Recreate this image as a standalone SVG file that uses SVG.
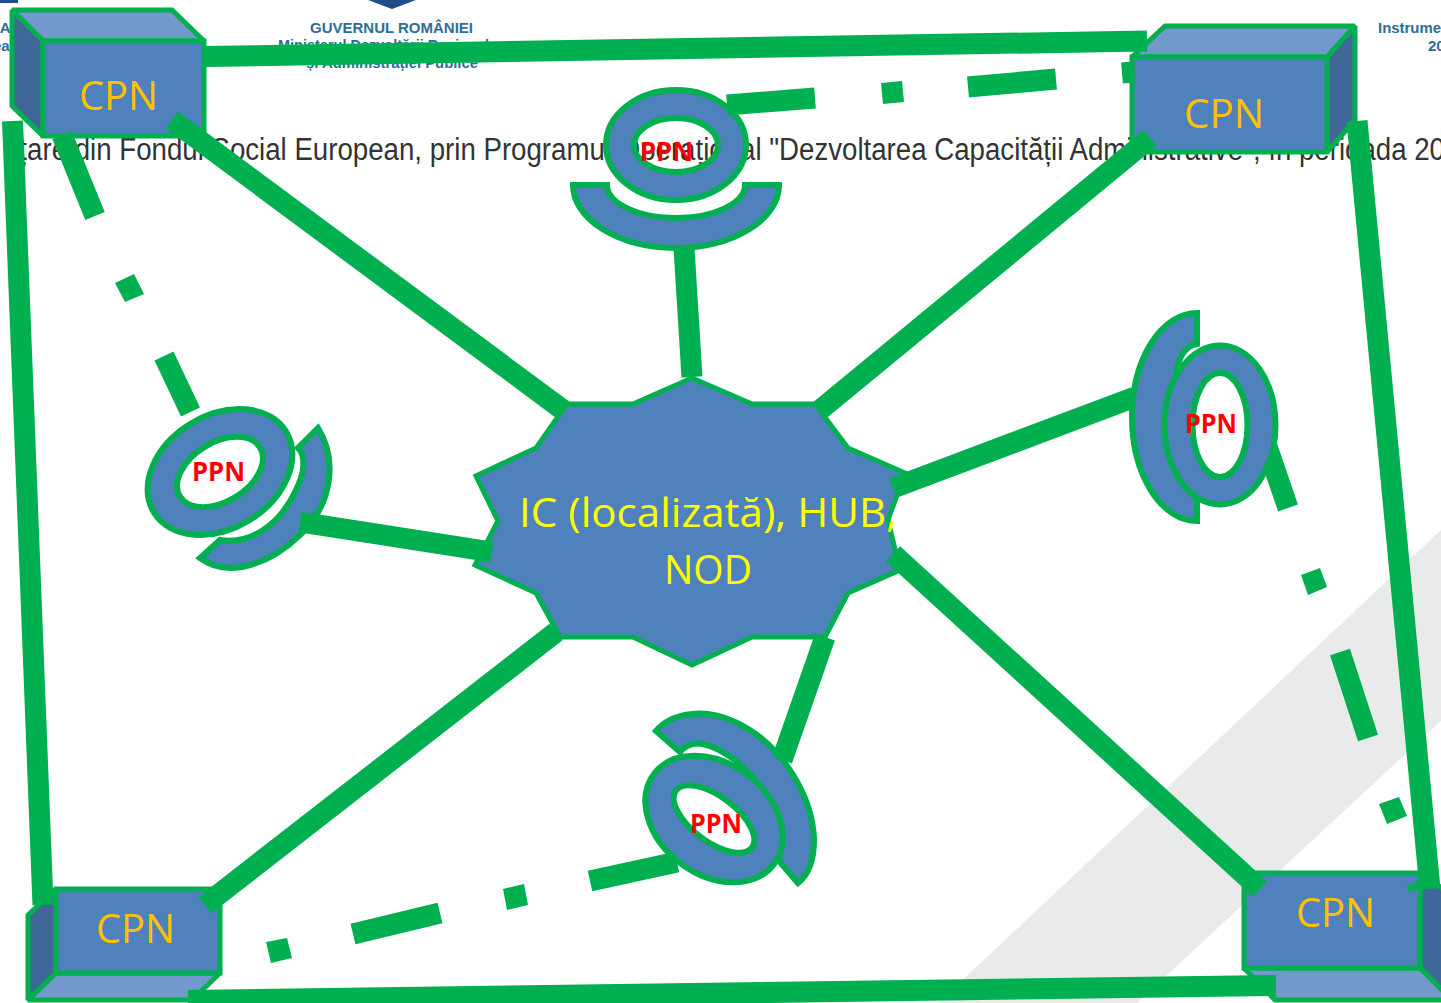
<svg xmlns="http://www.w3.org/2000/svg" width="1441" height="1003" viewBox="0 0 1441 1003">
<style>
.s{stroke:#00B050;stroke-width:5;stroke-linejoin:miter;stroke-miterlimit:2}
.p{stroke-width:6}
.f{fill:#4F81BD}.t{fill:#7299CC}.d{fill:#3F6797}
.r{fill:#4F81BD;fill-rule:evenodd;stroke:#00B050;stroke-width:6}
.c{stroke:#00B050;stroke-width:21;fill:none}
.o{fill:#00B050}
.cpn{font-family:"Open Sans",sans-serif;font-size:40px;fill:#FFC000}
.ppn{font-family:"Open Sans",sans-serif;font-weight:700;font-size:27px;fill:#FF0000}
.hub{font-family:"Open Sans",sans-serif;font-size:40px;fill:#FFFF00}
.b{font-family:"Liberation Sans",sans-serif;font-weight:700;fill:#2D6E96}
</style>
<rect width="1441" height="1003" fill="#fff"/>
<g id="background">
<polygon points="938,1003 1441,530 1441,721 1137,1003" fill="#E9EBEA"/>
<rect x="0" y="0" width="18" height="3" fill="#1F4E8C"/>
<polygon points="368,0 392,9 416,0" fill="#1F4E8C"/>
<text class="b" x="-11" y="33" font-size="15">NA</text>
<text class="b" x="-7" y="51" font-size="15">ea</text>
<text class="b" x="310" y="33" font-size="15" textLength="163" lengthAdjust="spacingAndGlyphs">GUVERNUL ROMÂNIEI</text>
<text class="b" x="278" y="50" font-size="15" textLength="219" lengthAdjust="spacingAndGlyphs">Ministerul Dezvoltării Regionale</text>
<text class="b" x="306" y="68" font-size="15" textLength="172" lengthAdjust="spacingAndGlyphs">și Administrației Publice</text>
<text class="b" x="1378" y="33" font-size="15" textLength="63" lengthAdjust="spacingAndGlyphs">Instrume</text>
<text class="b" x="1428" y="51" font-size="15">20</text>
<text x="4" y="160" font-family="Liberation Sans,sans-serif" font-size="31" fill="#333" textLength="1441" lengthAdjust="spacingAndGlyphs">nțare din Fondul Social European, prin Programul Operațional "Dezvoltarea Capacității Administrative", în perioada 20</text>
</g>
<g id="hub">
<polygon class="s f" points="692,378 752,404 815,404 848,448 905,473 888,520 900,570 848,593 825,637 752,637 692,665 633,637 560,637 536,593 475,565 498,521 476,476 536,448 567,404 633,404"/>
<text class="hub" x="519" y="527" textLength="378" lengthAdjust="spacingAndGlyphs">IC (localizată), HUB,</text>
<text class="hub" x="664" y="584" textLength="88" lengthAdjust="spacingAndGlyphs">NOD</text>
</g>
<g id="cpn-top-left">
<polygon class="s t" points="12,10 172,10 204,41 43,41"/>
<polygon class="s d" points="12,10 43,41 43,136 12,106"/>
<rect class="s f" x="43" y="41" width="161" height="95"/>
<text class="cpn" x="79" y="110" textLength="79" lengthAdjust="spacingAndGlyphs">CPN</text>
</g>
<g id="cpn-top-right">
<polygon class="s t" points="1165,26 1355,26 1327,57 1132,57"/>
<polygon class="s d" points="1327,57 1355,26 1355,120 1327,152"/>
<rect class="s f" x="1132" y="57" width="195" height="95"/>
<text class="cpn" x="1184" y="128" textLength="80" lengthAdjust="spacingAndGlyphs">CPN</text>
</g>
<g id="cpn-bottom-left">
<polygon class="s d" points="28,915 56,889 56,973 28,1000"/>
<polygon class="s t" points="56,973 220,973 192,1000 28,1000"/>
<rect class="s f" x="56" y="889" width="164" height="84"/>
<text class="cpn" x="96" y="943" textLength="79" lengthAdjust="spacingAndGlyphs">CPN</text>
</g>
<g id="cpn-bottom-right">
<polygon class="s d" points="1420,873 1452,895 1452,1000 1420,968"/>
<polygon class="s t" points="1244,968 1420,968 1452,1000 1275,1000"/>
<rect class="s f" x="1244" y="873" width="176" height="95"/>
<text class="cpn" x="1296" y="927" textLength="79" lengthAdjust="spacingAndGlyphs">CPN</text>
</g>
<g id="ppn-left">
<path class="s p f" d="M318,428C338,460 332,505 300,535C272,562 230,580 200,558L220,540C250,545 280,525 296,490C306,470 305,455 298,448Z"/>
<path class="r" transform="rotate(-31.5 220 472)" d="M142.5,472a77.5,56.5 0 1 0 155,0a77.5,56.5 0 1 0 -155,0ZM173,472a47,29.5 0 1 0 94,0a47,29.5 0 1 0 -94,0Z"/>
<text class="ppn" x="192" y="481" textLength="53" lengthAdjust="spacingAndGlyphs">PPN</text>
</g>
<g id="ppn-bottom">
<path class="s p f" d="M656,731C672,712 705,708 735,722C785,745 813,800 814,840C814,860 808,875 798,883L778,860C790,830 770,790 735,760C710,742 692,738 680,752Z"/>
<path class="r" transform="rotate(37 714 819)" d="M639,819a75,55.5 0 1 0 150,0a75,55.5 0 1 0 -150,0ZM666.5,819a47.5,22.5 0 1 0 95,0a47.5,22.5 0 1 0 -95,0Z"/>
<text class="ppn" x="690" y="833" textLength="52" lengthAdjust="spacingAndGlyphs">PPN</text>
</g>
<g id="ppn-top">
<path class="s p f" d="M573,185A103,63 0 0 0 779,185L745,185A69,33 0 0 1 607,185Z"/>
<path class="r" d="M606,145a70,55 0 1 0 140,0a70,55 0 1 0 -140,0ZM634,145a42,27 0 1 0 84,0a42,27 0 1 0 -84,0Z"/>
<text class="ppn" x="640" y="161" textLength="53" lengthAdjust="spacingAndGlyphs">PPN</text>
</g>
<g id="connectors">
<line class="c" x1="204" y1="56.5" x2="1147" y2="41"/>
<line class="c" x1="12.5" y1="121" x2="43" y2="905"/>
<line class="c" x1="188" y1="1000.5" x2="1276" y2="985.5"/>
<line class="c" x1="1357" y1="121" x2="1430" y2="889"/>
<line class="c" x1="172" y1="120" x2="563" y2="410"/>
<line class="c" x1="1150" y1="138" x2="820" y2="410"/>
<line class="c" x1="684" y1="248" x2="692" y2="377"/>
<line class="c" x1="1135" y1="397" x2="893" y2="488"/>
<line class="c" x1="893" y1="554" x2="1260" y2="889"/>
<line class="c" x1="825" y1="637" x2="782" y2="760"/>
<line class="c" x1="556" y1="632" x2="205" y2="905"/>
<line class="c" x1="492" y1="552" x2="300" y2="522"/>
<line class="c" x1="62" y1="135" x2="95" y2="216"/>
<polygon class="o" points="115,283 134,274 144,294 125,302"/>
<line class="c" x1="164" y1="356" x2="190.5" y2="412"/>
<line class="c" x1="727" y1="105" x2="815" y2="98"/>
<polygon class="o" points="881,83 902,81 904,102 883,104"/>
<line class="c" x1="968" y1="87" x2="1056" y2="79"/>
<line class="c" x1="1122" y1="73" x2="1134" y2="72"/>
<line class="c" x1="590" y1="881" x2="677" y2="862"/>
<polygon class="o" points="503,889 524,884 528,905 507,910"/>
<line class="c" x1="353" y1="934" x2="440" y2="913"/>
<polygon class="o" points="266,942 287,938 292,958 271,963"/>
<line class="c" x1="1288" y1="508" x2="1262" y2="432"/>
<polygon class="o" points="1301,575 1320,568 1327,587 1308,595"/>
<line class="c" x1="1340" y1="652" x2="1368" y2="738"/>
<polygon class="o" points="1379,804 1399,797 1407,816 1387,824"/>
<line x1="1408" y1="889" x2="1426" y2="882" stroke="#00B050" stroke-width="7"/>
</g>
<g id="ppn-right">
<path class="s p f" d="M1197,313A65,104 0 0 0 1197,521L1197,500L1190,480L1176,375C1178,358 1185,346 1197,344Z"/>
<path class="r" d="M1164.5,425a55.5,79.5 0 1 0 111,0a55.5,79.5 0 1 0 -111,0ZM1192.5,425a27.5,52 0 1 0 55,0a27.5,52 0 1 0 -55,0Z"/>
<text class="ppn" x="1185" y="433" textLength="52" lengthAdjust="spacingAndGlyphs">PPN</text>
</g>
</svg>
